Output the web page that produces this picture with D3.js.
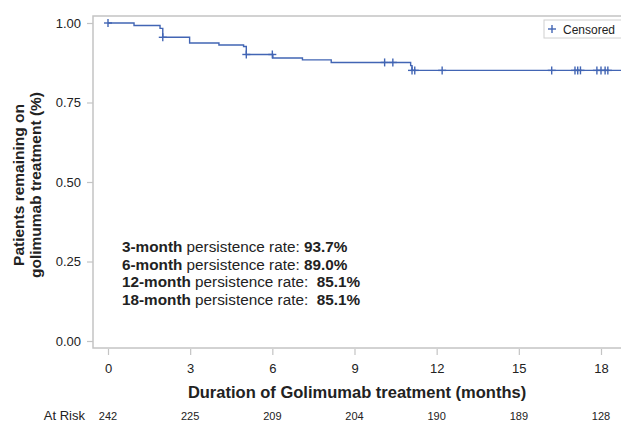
<!DOCTYPE html>
<html>
<head>
<meta charset="utf-8">
<script src="https://cdn.jsdelivr.net/npm/d3@7"></script>
<style>
  html, body { margin: 0; padding: 0; background: #fff; }
  svg { display: block; font-family: "Liberation Sans", Arial, sans-serif; }
</style>
</head>
<body>
<svg id="chart" width="621" height="425"></svg>
<script>
// Kaplan-Meier estimate: event times (months) and survival after each step
const stepTimes = [0, 0.95, 1.9, 2.0, 2.98, 4.05, 4.95, 5.05, 6.02, 7.1, 8.15, 11.05, 11.1];
const stepSurvival = [1.0, 0.992, 0.983, 0.955, 0.937, 0.931, 0.926, 0.901, 0.890, 0.884, 0.876, 0.866, 0.851];

// Censored observation times (months)
const censorTimes = [0, 2.0, 5.05, 6.0, 10.1, 10.4, 11.1, 11.2, 12.2, 16.2, 17.05, 17.15, 17.25, 17.85, 18.0, 18.15, 18.25];

// Axis ticks
const xTicks = [0, 3, 6, 9, 12, 15, 18];
const yTicks = [0, 0.25, 0.5, 0.75, 1.0];

// Number at risk below the axis
const riskTimes = [0, 3, 6, 9, 12, 15, 18];
const riskCounts = [242, 225, 209, 204, 190, 189, 128];

// Persistence annotations
const rateLabels = ["3-month", "6-month", "12-month", "18-month"];
const rateMiddles = [" persistence rate: ", " persistence rate: ", " persistence rate:  ", " persistence rate:  "];
const rateValues = ["93.7%", "89.0%", "85.1%", "85.1%"];

const svg = d3.select("#chart");
const blue = "#4265b4";
const frameColor = "#c4c4c4";
const textColor = "#222";

const x = d3.scaleLinear().domain([0, 18]).range([108, 601]);
const y = d3.scaleLinear().domain([0, 1]).range([341, 23]);

const plotLeft = 93, plotRight = 621, plotTop = 16, plotBottom = 348;
const xEnd = x.invert(plotRight);

// Plot frame
svg.append("rect")
  .attr("x", plotLeft).attr("y", plotTop)
  .attr("width", plotRight - plotLeft + 2).attr("height", plotBottom - plotTop)
  .attr("fill", "none").attr("stroke", frameColor).attr("stroke-width", 1.5);

// Y axis
const yAxis = d3.axisLeft(y).tickValues(yTicks).tickFormat(d3.format(".2f")).tickSize(6).tickPadding(6);
const gy = svg.append("g").attr("transform", `translate(${plotLeft},0)`).call(yAxis);
gy.select(".domain").remove();
gy.selectAll(".tick line").attr("stroke", frameColor).attr("stroke-width", 1.2);
gy.selectAll(".tick text").attr("fill", textColor).style("font-size", "13px");

// X axis
const xAxis = d3.axisBottom(x).tickValues(xTicks).tickFormat(d3.format("d")).tickSize(6).tickPadding(9);
const gx = svg.append("g").attr("transform", `translate(0,${plotBottom + 1})`).call(xAxis);
gx.select(".domain").remove();
gx.selectAll(".tick line").attr("stroke", frameColor).attr("stroke-width", 1.2);
gx.selectAll(".tick text").attr("fill", textColor).style("font-size", "13px");

// Axis titles
svg.append("text")
  .attr("x", (plotLeft + plotRight) / 2).attr("y", 398)
  .attr("text-anchor", "middle").attr("font-weight", "bold")
  .style("font-size", "16.5px").attr("fill", textColor)
  .text("Duration of Golimumab treatment (months)");

const yTitle = svg.append("text")
  .attr("transform", "translate(0,185) rotate(-90)")
  .attr("text-anchor", "middle").attr("font-weight", "bold")
  .style("font-size", "15.5px").attr("fill", textColor);
yTitle.append("tspan").attr("x", 0).attr("y", 24).text("Patients remaining on");
yTitle.append("tspan").attr("x", 0).attr("y", 41).text("golimumab treatment (%)");

// Survival step curve
const pts = stepTimes.map((t, i) => [t, stepSurvival[i]]);
pts.push([xEnd, stepSurvival[stepSurvival.length - 1]]);
const line = d3.line().x(d => x(d[0])).y(d => y(d[1])).curve(d3.curveStepAfter);
svg.append("path")
  .datum(pts)
  .attr("d", line)
  .attr("fill", "none").attr("stroke", blue).attr("stroke-width", 1.4);

// Survival value at time t
function survivalAt(t) {
  let s = 1;
  for (let i = 0; i < stepTimes.length; i++) if (stepTimes[i] <= t) s = stepSurvival[i];
  return s;
}

// Censor marks
const h = 4;
const cg = svg.append("g").attr("stroke", blue).attr("stroke-width", 1.4);
censorTimes.forEach(t => {
  const cx = x(t), cy = y(survivalAt(t));
  cg.append("line").attr("x1", cx - h).attr("x2", cx + h).attr("y1", cy).attr("y2", cy);
  cg.append("line").attr("x1", cx).attr("x2", cx).attr("y1", cy - h).attr("y2", cy + h);
});

// Legend
const lg = svg.append("g");
lg.append("rect").attr("x", 544).attr("y", 20).attr("width", 78).attr("height", 18)
  .attr("fill", "#fff").attr("stroke", "#d0d0d0").attr("stroke-width", 1);
lg.append("line").attr("x1", 548).attr("x2", 556).attr("y1", 29).attr("y2", 29).attr("stroke", blue).attr("stroke-width", 1.4);
lg.append("line").attr("x1", 552).attr("x2", 552).attr("y1", 25).attr("y2", 33).attr("stroke", blue).attr("stroke-width", 1.4);
lg.append("text").attr("x", 563).attr("y", 33.5).style("font-size", "12px").attr("fill", textColor).text("Censored");

// Persistence annotations
rateLabels.forEach((lab, i) => {
  const t = svg.append("text")
    .attr("x", 122).attr("y", 252 + i * 17.7)
    .style("font-size", "15.3px").attr("fill", textColor)
    .attr("xml:space", "preserve").style("white-space", "pre");
  t.append("tspan").attr("font-weight", "bold").text(lab);
  t.append("tspan").text(rateMiddles[i]);
  t.append("tspan").attr("font-weight", "bold").text(rateValues[i]);
});

// Number at risk row
svg.append("text").attr("x", 85).attr("y", 420)
  .attr("text-anchor", "end")
  .style("font-size", "13px").attr("fill", textColor).text("At Risk");
svg.append("g").selectAll("text")
  .data(riskTimes)
  .join("text")
  .attr("x", d => x(d)).attr("y", 420)
  .attr("text-anchor", "middle")
  .style("font-size", "11px").attr("fill", textColor)
  .text((d, i) => riskCounts[i]);
</script>
</body>
</html>
